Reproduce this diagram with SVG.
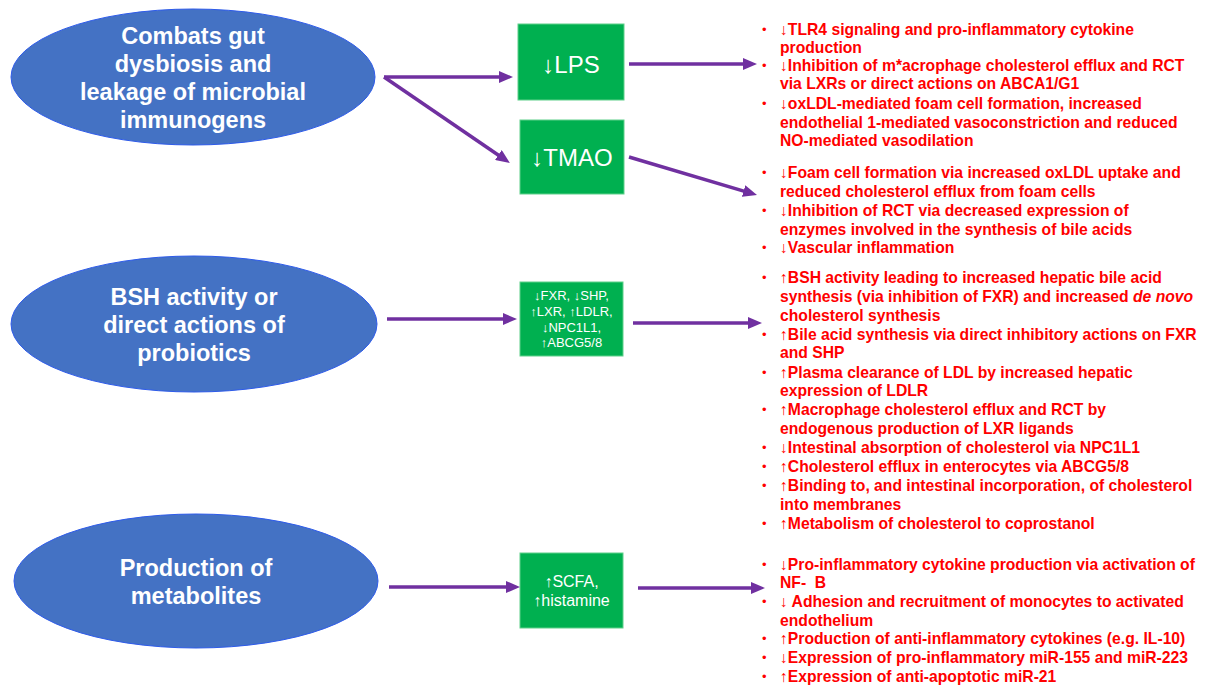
<svg xmlns="http://www.w3.org/2000/svg" width="1210" height="689" viewBox="0 0 1210 689">
<style>
.ell{fill:#4472C4;stroke:#2E5BEA;stroke-width:1}
.et{font-family:"Liberation Sans",Arial,sans-serif;font-weight:bold;font-size:23.5px;fill:#fff;text-anchor:middle}
.box{fill:#00B050;stroke:#5FD08A;stroke-width:1}
.bt{font-family:"Liberation Sans",Arial,sans-serif;fill:#fff;text-anchor:middle}
.con{stroke:#7030A0;stroke-width:3.5;fill:none;marker-end:url(#ah)}
.rt{font-family:"Liberation Sans",Arial,sans-serif;font-weight:bold;font-size:15.7px;fill:#FF0000;white-space:pre}
.bul{font-family:"Liberation Sans",Arial,sans-serif;font-size:13px;fill:#FF0000}
</style>
<defs>
<marker id="ah" markerWidth="14" markerHeight="12" refX="2" refY="6" orient="auto" markerUnits="userSpaceOnUse" viewBox="0 0 14 12">
<path d="M0,0 L14,6 L0,12 z" fill="#7030A0"/>
</marker>
</defs>
<rect width="1210" height="689" fill="#fff"/>

<g id="node-dysbiosis">
<ellipse class="ell" cx="193" cy="77" rx="182" ry="68"/>
<text class="et" x="193" y="44">Combats gut</text>
<text class="et" x="193" y="72">dysbiosis and</text>
<text class="et" x="193" y="100">leakage of microbial</text>
<text class="et" x="193" y="128">immunogens</text>
</g>
<g id="node-bsh">
<ellipse class="ell" cx="194" cy="324" rx="183" ry="68"/>
<text class="et" x="194" y="305">BSH activity or</text>
<text class="et" x="194" y="333">direct actions of</text>
<text class="et" x="194" y="361">probiotics</text>
</g>
<g id="node-metabolites">
<ellipse class="ell" cx="196" cy="581" rx="182" ry="67"/>
<text class="et" x="196" y="576">Production of</text>
<text class="et" x="196" y="604">metabolites</text>
</g>

<g id="box-lps">
<rect class="box" x="518" y="24" width="106" height="76"/>
<text class="bt" x="571" y="73" font-size="24">↓LPS</text>
</g>
<g id="box-tmao">
<rect class="box" x="520" y="120" width="104" height="74"/>
<text class="bt" x="572" y="166" font-size="24">↓TMAO</text>
</g>
<g id="box-fxr">
<rect class="box" x="520" y="282" width="103" height="74"/>
<text class="bt" x="571.5" y="300" font-size="13">↓FXR, ↓SHP,</text>
<text class="bt" x="571.5" y="316" font-size="13">↑LXR, ↑LDLR,</text>
<text class="bt" x="571.5" y="332" font-size="13">↓NPC1L1,</text>
<text class="bt" x="571.5" y="347" font-size="13">↑ABCG5/8</text>
</g>
<g id="box-scfa">
<rect class="box" x="520" y="553" width="103" height="75"/>
<text class="bt" x="571.5" y="587" font-size="16">↑SCFA,</text>
<text class="bt" x="571.5" y="606" font-size="16">↑histamine</text>
</g>

<g id="connectors">
<line class="con" x1="384" y1="77" x2="501" y2="77"/>
<line class="con" x1="384" y1="77" x2="500" y2="156.2"/>
<line class="con" x1="629" y1="64" x2="745" y2="64"/>
<line class="con" x1="629" y1="157" x2="745.5" y2="191.6"/>
<line class="con" x1="387" y1="319" x2="505" y2="319"/>
<line class="con" x1="633" y1="323" x2="750" y2="323"/>
<line class="con" x1="389" y1="587" x2="508" y2="587"/>
<line class="con" x1="638" y1="588" x2="753" y2="588"/>
</g>

<g id="effects-lps">
<text class="bul" x="762" y="34">•</text>
<text class="rt" x="780" y="35">↓TLR4 signaling and pro-inflammatory cytokine</text>
<text class="rt" x="780" y="53">production</text>
<text class="bul" x="762" y="70">•</text>
<text class="rt" x="780" y="71">↓Inhibition of m*acrophage cholesterol efflux and RCT</text>
<text class="rt" x="780" y="89">via LXRs or direct actions on ABCA1/G1</text>
<text class="bul" x="762" y="108">•</text>
<text class="rt" x="780" y="109">↓oxLDL-mediated foam cell formation, increased</text>
<text class="rt" x="780" y="128">endothelial 1-mediated vasoconstriction and reduced</text>
<text class="rt" x="780" y="146">NO-mediated vasodilation</text>
</g>
<g id="effects-tmao">
<text class="bul" x="762" y="177">•</text>
<text class="rt" x="780" y="178">↓Foam cell formation via increased oxLDL uptake and</text>
<text class="rt" x="780" y="197">reduced cholesterol efflux from foam cells</text>
<text class="bul" x="762" y="215">•</text>
<text class="rt" x="780" y="216">↓Inhibition of RCT via decreased expression of</text>
<text class="rt" x="780" y="235">enzymes involved in the synthesis of bile acids</text>
<text class="bul" x="762" y="252">•</text>
<text class="rt" x="780" y="253">↓Vascular inflammation</text>
</g>
<g id="effects-bsh">
<text class="bul" x="762" y="282">•</text>
<text class="rt" x="780" y="283">↑BSH activity leading to increased hepatic bile acid</text>
<text class="rt" x="780" y="302">synthesis (via inhibition of FXR) and increased <tspan font-style="italic">de novo</tspan></text>
<text class="rt" x="780" y="321">cholesterol synthesis</text>
<text class="bul" x="762" y="339">•</text>
<text class="rt" x="780" y="340">↑Bile acid synthesis via direct inhibitory actions on FXR</text>
<text class="rt" x="780" y="358">and SHP</text>
<text class="bul" x="762" y="377">•</text>
<text class="rt" x="780" y="378">↑Plasma clearance of LDL by increased hepatic</text>
<text class="rt" x="780" y="396">expression of LDLR</text>
<text class="bul" x="762" y="414">•</text>
<text class="rt" x="780" y="415">↑Macrophage cholesterol efflux and RCT by</text>
<text class="rt" x="780" y="434">endogenous production of LXR ligands</text>
<text class="bul" x="762" y="452">•</text>
<text class="rt" x="780" y="453">↓Intestinal absorption of cholesterol via NPC1L1</text>
<text class="bul" x="762" y="471">•</text>
<text class="rt" x="780" y="472">↑Cholesterol efflux in enterocytes via ABCG5/8</text>
<text class="bul" x="762" y="490">•</text>
<text class="rt" x="780" y="491">↑Binding to, and intestinal incorporation, of cholesterol</text>
<text class="rt" x="780" y="510">into membranes</text>
<text class="bul" x="762" y="528">•</text>
<text class="rt" x="780" y="529">↑Metabolism of cholesterol to coprostanol</text>
</g>
<g id="effects-metabolites">
<text class="bul" x="762" y="569">•</text>
<text class="rt" x="780" y="570">↓Pro-inflammatory cytokine production via activation of</text>
<text class="rt" x="780" y="588">NF-  B</text>
<text class="bul" x="762" y="606">•</text>
<text class="rt" x="780" y="607">↓ Adhesion and recruitment of monocytes to activated</text>
<text class="rt" x="780" y="626">endothelium</text>
<text class="bul" x="762" y="643">•</text>
<text class="rt" x="780" y="644">↑Production of anti-inflammatory cytokines (e.g. IL-10)</text>
<text class="bul" x="762" y="662">•</text>
<text class="rt" x="780" y="663">↓Expression of pro-inflammatory miR-155 and miR-223</text>
<text class="bul" x="762" y="681">•</text>
<text class="rt" x="780" y="682">↑Expression of anti-apoptotic miR-21</text>
</g>
</svg>
